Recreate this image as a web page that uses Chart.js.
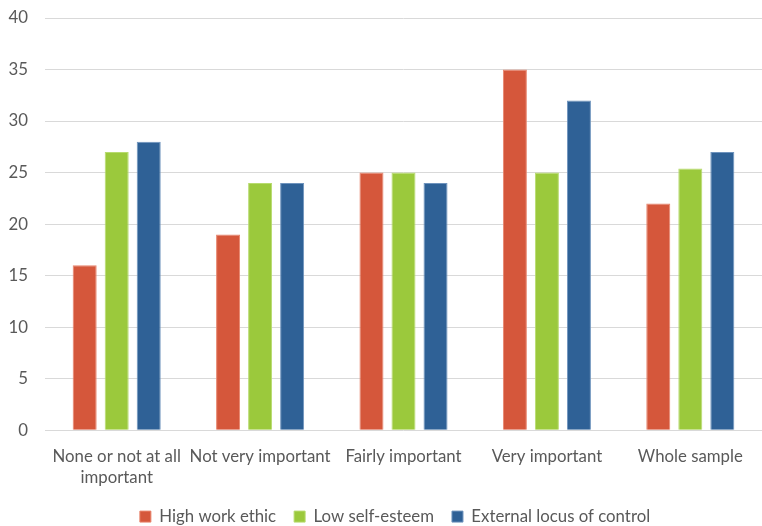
<!DOCTYPE html>
<html>
<head>
<meta charset="utf-8">
<script src="https://cdn.jsdelivr.net/npm/chart.js@4"></script>
<style>
html,body{margin:0;padding:0;background:#fff;}
#wrap{width:762px;height:526px;position:relative;}
</style>
</head>
<body>
<div id="wrap"><canvas id="c"></canvas></div>
<script>
const categories = [["None or not at all", "important"], "Not very important", "Fairly important", "Very important", "Whole sample"];
const highWorkEthic = [16, 19, 25, 35, 22];
const lowSelfEsteem = [27, 24, 25, 25, 25.4];
const externalLocus = [28, 24, 24, 32, 27];
const seriesNames = ["High work ethic", "Low self-esteem", "External locus of control"];
const yTicks = [0, 5, 10, 15, 20, 25, 30, 35, 40];

const font = "Lato, 'Open Sans', sans-serif";
const textColor = '#595959';

const shiftLegend = {
  id: 'shiftLegend',
  afterLayout(chart) {
    if (chart.legend) { chart.legend.left += 14; chart.legend.right += 14; }
  }
};

new Chart(document.getElementById('c'), {
  type: 'bar',
  data: {
    labels: categories,
    datasets: [
      {label: seriesNames[0], data: highWorkEthic, backgroundColor: '#D5573B', borderColor: '#E8846C', borderWidth: 1},
      {label: seriesNames[1], data: lowSelfEsteem, backgroundColor: '#9BC93C', borderColor: '#B7DB6E', borderWidth: 1},
      {label: seriesNames[2], data: externalLocus, backgroundColor: '#2F6196', borderColor: '#6E93BD', borderWidth: 1}
    ]
  },
  plugins: [shiftLegend],
  options: {
    responsive: true,
    maintainAspectRatio: false,
    animation: false,
    layout: {padding: {top: 18, right: 0, left: 0, bottom: -9}},
    datasets: {bar: {categoryPercentage: 0.67, barPercentage: 0.75}},
    plugins: {
      legend: {
        position: 'bottom',
        labels: {boxWidth: 11, boxHeight: 11, padding: 18, color: textColor, font: {family: font, size: 16.8}}
      },
      tooltip: {enabled: false}
    },
    scales: {
      x: {
        afterFit: (s) => { s.height = 60; },
        grid: {display: false, drawTicks: false},
        border: {display: false},
        ticks: {color: textColor, font: {family: font, size: 16.8, lineHeight: 1.3}, maxRotation: 0, autoSkip: false, padding: 15}
      },
      y: {
        min: 0, max: 40,
        afterFit: (s) => { s.width = 45; s.paddingTop = 0; s.paddingBottom = 0; },
        afterBuildTicks: (s) => { s.ticks = yTicks.map(v => ({value: v})); },
        grid: {color: '#D9D9D9', lineWidth: 1, drawTicks: false},
        border: {display: false},
        ticks: {color: textColor, font: {family: font, size: 16.8}, padding: 17}
      }
    }
  }
});
</script>
</body>
</html>
